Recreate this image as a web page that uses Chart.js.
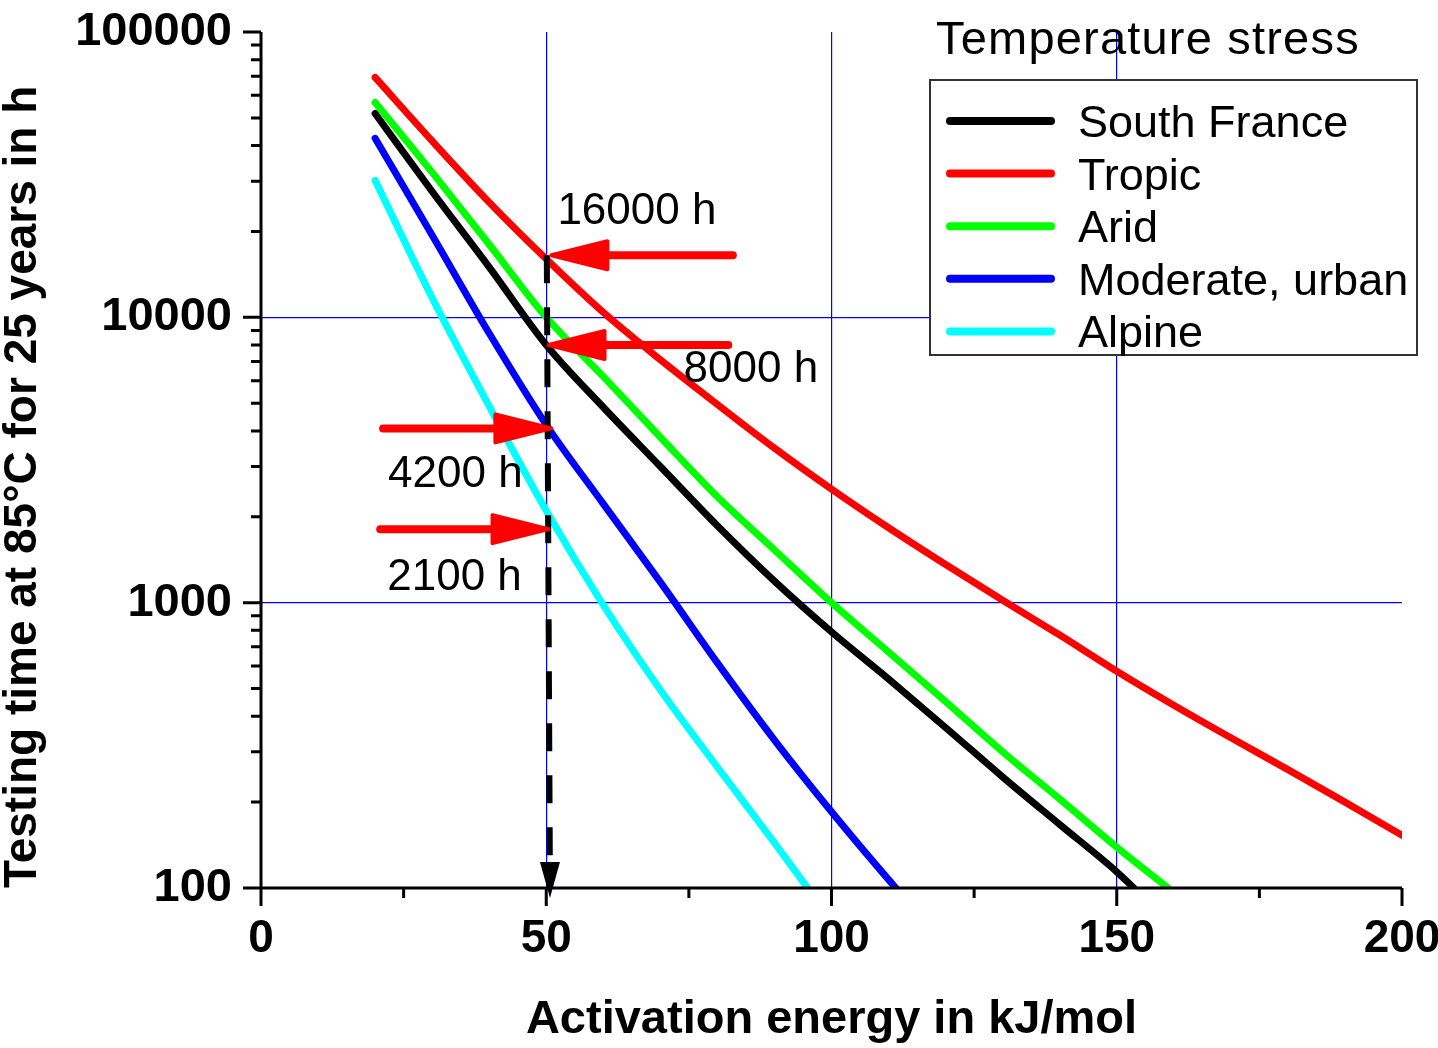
<!DOCTYPE html>
<html>
<head>
<meta charset="utf-8">
<title>Testing time vs activation energy</title>
<script src="https://cdn.jsdelivr.net/npm/chart.js@4.4.1/dist/chart.umd.min.js"></script>
<style>
  html, body { margin: 0; padding: 0; background: #fff; }
  #wrap { width: 1438px; height: 1048px; }
</style>
</head>
<body>
<div id="wrap"><canvas id="chart" width="1438" height="1048"></canvas></div>
<script>
/* ---- Data ---- */
var energyTicks = [0, 50, 100, 150, 200];
var energyMinor = [25, 75, 125, 175];
var timeTicks = [100, 1000, 10000, 100000];

var curveNames = ['South France', 'Tropic', 'Arid', 'Moderate, urban', 'Alpine'];
var curveColors = ['#000000', '#ff0000', '#00ff00', '#0000ff', '#00ffff'];

var southFranceE = [20, 30, 40, 50, 60, 70, 80, 90, 100, 110, 120, 130, 140, 150, 153];
var southFranceT = [51800, 27600, 15000, 8000, 4840, 3000, 1860, 1190, 790, 540, 365, 245, 167, 114, 100];

var tropicE = [20, 30, 40, 50, 60, 70, 80, 90, 100, 110, 120, 130, 140, 150, 160, 170, 180, 190, 200];
var tropicT = [69300, 41500, 25300, 16000, 10400, 7100, 4950, 3480, 2500, 1830, 1360, 1020, 770, 575, 437, 336, 260, 200, 153];

var aridE = [20, 30, 40, 50, 60, 70, 80, 90, 100, 110, 120, 130, 140, 150, 159];
var aridT = [56600, 32200, 18000, 10000, 6200, 3800, 2350, 1530, 1000, 671, 450, 300, 205, 139, 100];

var moderateE = [20, 30, 40, 50, 60, 70, 80, 90, 100, 110, 111.3];
var moderateT = [42400, 19400, 8790, 4200, 2220, 1180, 615, 330, 185, 107, 100];

var alpineE = [20, 30, 40, 50, 60, 70, 80, 90, 95.8];
var alpineT = [30200, 11700, 4880, 2100, 980, 494, 265, 144, 100];

/* dashed drop line at Ea = 50 kJ/mol */
var dropE = [50.1, 50.65];
var dropT = [16500, 100];

/* red arrows: where they sit and what they say */
var arrowAt = [16500, 8000, 4080, 1810];
var arrowTipE = [50.9, 50.4, 50.9, 50.4];
var arrowTailE = [82.7, 81.9, 21.4, 20.9];
var arrowLabels = ['16000 h', '8000 h', '4200 h', '2100 h'];

var FONT = '"Liberation Sans", Arial, Helvetica, sans-serif';
Chart.defaults.font.family = FONT;
Chart.defaults.color = '#000';

function pts(xs, ys) {
  return xs.map(function (x, i) { return { x: x, y: ys[i] }; });
}

var curveE = [southFranceE, tropicE, aridE, moderateE, alpineE];
var curveT = [southFranceT, tropicT, aridT, moderateT, alpineT];

var datasets = [{
  label: 'drop',
  data: pts(dropE, dropT),
  borderColor: '#000',
  borderWidth: 6,
  borderDash: [28, 24],
  borderCapStyle: 'butt',
  pointRadius: 0,
  tension: 0,
  order: 0,
  clip: 0
}];
curveNames.forEach(function (name, i) {
  datasets.push({
    label: name,
    data: pts(curveE[i], curveT[i]),
    borderColor: curveColors[i],
    borderWidth: 7,
    borderCapStyle: 'round',
    borderJoinStyle: 'round',
    cubicInterpolationMode: 'monotone',
    pointRadius: 0,
    order: 1,
    clip: 0
  });
});

/* ---- Axis lines with major / minor ticks ---- */
var axisTicks = {
  id: 'axisTicks',
  afterDatasetsDraw: function (chart) {
    var ctx = chart.ctx, a = chart.chartArea;
    var xs = chart.scales.x, ys = chart.scales.y;
    ctx.save();
    ctx.strokeStyle = '#000';
    ctx.lineWidth = 3;
    ctx.lineCap = 'butt';
    ctx.beginPath();
    ctx.moveTo(a.left, a.top); ctx.lineTo(a.left, a.bottom);
    ctx.moveTo(a.left - 1.5, a.bottom); ctx.lineTo(a.right, a.bottom);
    timeTicks.forEach(function (v, k) {
      var py = ys.getPixelForValue(v);
      ctx.moveTo(a.left, py); ctx.lineTo(a.left - 18, py);
      if (k < timeTicks.length - 1) {
        for (var m = 2; m <= 9; m++) {
          var pm = ys.getPixelForValue(v * m);
          ctx.moveTo(a.left, pm); ctx.lineTo(a.left - 10, pm);
        }
      }
    });
    energyTicks.forEach(function (v) {
      var px = xs.getPixelForValue(v);
      ctx.moveTo(px, a.bottom); ctx.lineTo(px, a.bottom + 18);
    });
    energyMinor.forEach(function (v) {
      var px = xs.getPixelForValue(v);
      ctx.moveTo(px, a.bottom); ctx.lineTo(px, a.bottom + 10);
    });
    ctx.stroke();
    ctx.restore();
  }
};

/* ---- Red arrows, labels and the arrow head of the drop line ---- */
function drawArrow(ctx, x0, x1, y) {
  var dir = x1 > x0 ? 1 : -1;
  var headLen = 56, half = 14;
  ctx.strokeStyle = '#ff0000';
  ctx.fillStyle = '#ff0000';
  ctx.lineCap = 'round';
  ctx.lineJoin = 'round';
  ctx.lineWidth = 8;
  ctx.beginPath();
  ctx.moveTo(x0, y);
  ctx.lineTo(x1 - dir * headLen, y);
  ctx.stroke();
  ctx.lineWidth = 4;
  ctx.beginPath();
  ctx.moveTo(x1, y);
  ctx.lineTo(x1 - dir * headLen, y - half);
  ctx.lineTo(x1 - dir * headLen, y + half);
  ctx.closePath();
  ctx.fill();
  ctx.stroke();
}

var labelDx = [6, 135, 5, 7];
var labelDy = [-47, 21, 43, 45];

var annotations = {
  id: 'annotations',
  afterDatasetsDraw: function (chart) {
    var ctx = chart.ctx;
    var xs = chart.scales.x, ys = chart.scales.y;
    ctx.save();
    /* drop-line arrow head */
    var bx = xs.getPixelForValue(dropE[1]);
    var by = ys.getPixelForValue(dropT[1]);
    ctx.fillStyle = '#000';
    ctx.beginPath();
    ctx.moveTo(bx, by + 10);
    ctx.lineTo(bx - 10, by - 26);
    ctx.lineTo(bx + 10, by - 26);
    ctx.closePath();
    ctx.fill();

    arrowAt.forEach(function (v, i) {
      var y = ys.getPixelForValue(v);
      var tip = xs.getPixelForValue(arrowTipE[i]);
      var tail = xs.getPixelForValue(arrowTailE[i]);
      drawArrow(ctx, tail, tip, y);
      ctx.fillStyle = '#000';
      ctx.font = '44px ' + FONT;
      ctx.textAlign = 'left';
      ctx.textBaseline = 'alphabetic';
      ctx.fillText(arrowLabels[i], Math.min(tip, tail) + labelDx[i], y + labelDy[i] + 16);
    });
    ctx.restore();
  }
};

/* ---- Boxed legend with its title ---- */
var boxLegend = {
  id: 'boxLegend',
  afterDraw: function (chart) {
    var ctx = chart.ctx;
    ctx.save();
    ctx.fillStyle = '#000';
    ctx.font = '47px ' + FONT;
    ctx.textBaseline = 'alphabetic';
    ctx.textAlign = 'left';
    if ('letterSpacing' in ctx) ctx.letterSpacing = '1.2px';
    ctx.fillText('Temperature stress', 936, 54);
    if ('letterSpacing' in ctx) ctx.letterSpacing = '0px';

    ctx.fillStyle = '#fff';
    ctx.fillRect(930, 80, 487, 275);
    ctx.strokeStyle = '#333';
    ctx.lineWidth = 2;
    ctx.strokeRect(930, 80, 487, 275);

    ctx.font = '45px ' + FONT;
    curveNames.forEach(function (name, i) {
      var y = 121 + i * 52.6;
      ctx.strokeStyle = curveColors[i];
      ctx.lineWidth = 8;
      ctx.lineCap = 'round';
      ctx.beginPath();
      ctx.moveTo(950, y);
      ctx.lineTo(1051, y);
      ctx.stroke();
      ctx.fillStyle = '#000';
      ctx.fillText(name, 1078, y + 16);
    });
    ctx.restore();
  }
};

new Chart(document.getElementById('chart'), {
  type: 'line',
  data: { datasets: datasets },
  plugins: [axisTicks, annotations, boxLegend],
  options: {
    responsive: false,
    animation: false,
    devicePixelRatio: 1,
    layout: { padding: { top: 32, right: 36, left: 0, bottom: 0 } },
    plugins: {
      legend: { display: false },
      tooltip: { enabled: false }
    },
    scales: {
      x: {
        type: 'linear',
        min: 0,
        max: 200,
        afterBuildTicks: function (s) {
          s.ticks = energyTicks.map(function (v) { return { value: v }; });
        },
        afterFit: function (s) { s.height = 160; s.paddingLeft = 0; s.paddingRight = 0; },
        border: { display: false },
        grid: {
          drawTicks: false,
          lineWidth: 1.2,
          color: function (c) {
            return (c.tick && c.tick.value > 0 && c.tick.value < 200) ? '#0000ff' : 'rgba(0,0,0,0)';
          }
        },
        ticks: {
          padding: 24,
          color: '#000',
          autoSkip: false,
          maxRotation: 0,
          font: { size: 46, weight: 'bold' },
          callback: function (v) { return String(v); }
        },
        title: {
          display: true,
          text: 'Activation energy in kJ/mol',
          color: '#000',
          font: { size: 47, weight: 'bold' },
          padding: { top: 1, bottom: 0 }
        }
      },
      y: {
        type: 'logarithmic',
        min: 100,
        max: 100000,
        afterBuildTicks: function (s) {
          s.ticks = timeTicks.map(function (v) { return { value: v }; });
        },
        afterFit: function (s) { s.width = 261; s.paddingTop = 0; s.paddingBottom = 0; },
        border: { display: false },
        grid: {
          drawTicks: false,
          lineWidth: 1.2,
          color: function (c) {
            return (c.tick && c.tick.value > 100 && c.tick.value < 100000) ? '#0000ff' : 'rgba(0,0,0,0)';
          }
        },
        ticks: {
          padding: 29,
          color: '#000',
          autoSkip: false,
          font: { size: 47, weight: 'bold' },
          callback: function (v) { return String(v); }
        },
        title: {
          display: true,
          text: 'Testing time at 85°C for 25 years in h',
          color: '#000',
          align: 'start',
          font: { size: 46, weight: 'bold' },
          padding: { top: -4, bottom: 0 }
        }
      }
    }
  }
});
</script>
</body>
</html>
